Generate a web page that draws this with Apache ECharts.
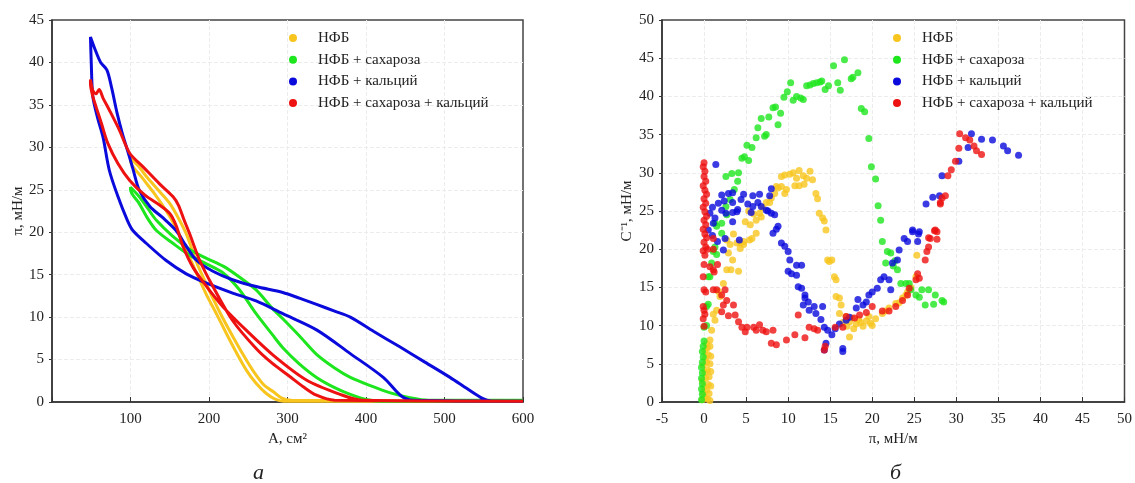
<!DOCTYPE html>
<html>
<head>
<meta charset="utf-8">
<script src="https://cdn.jsdelivr.net/npm/echarts@6/dist/echarts.min.js"></script>
<style>
  html, body { margin: 0; padding: 0; background: #fff; }
  #chart { width: 1135px; height: 483px; }
</style>
</head>
<body>
<div id="chart"></div>
<script>
// legend / series names
const names = ['НФБ', 'НФБ + сахароза', 'НФБ + кальций', 'НФБ + сахароза + кальций'];
const colors = ['#f7c51e', '#1ee61e', '#0a0adc', '#ee1111'];

// --- panel а: isotherms, [A, π], two branches per system ---
const nfbUp = [[100,28.7],[110,27.8],[120,26.6],[137,24.8],[150,23.4],[162,21.5],[172,19.6],[184,16.5],[195,14.2],[205,12.2],[218,9.8],[231,7.6],[244,5.5],[256,3.7],[270,2.0],[282,1.2],[292,0.5],[305,0.2],[600,0.1]];
const nfbDown = [[100,28.4],[115,26.4],[130,24.6],[145,22.6],[154,21.2],[165,19.2],[175,17.1],[186,14.8],[197,12.6],[210,10.3],[222,8.1],[235,5.8],[248,3.7],[260,2.2],[273,1.0],[285,0.3],[295,0.1],[600,0.1]];

const sucUp = [[100,25.3],[111,24.2],[122,22.8],[133,21.4],[154,19.5],[175,18.0],[195,17.0],[218,16.0],[239,14.7],[260,13.2],[281,11.0],[294,9.8],[315,7.8],[337,5.6],[360,4.0],[380,2.9],[409,1.8],[430,1.1],[456,0.5],[480,0.2],[600,0.2]];
const sucDown = [[100,25.0],[111,23.4],[122,21.6],[133,20.2],[154,18.7],[175,17.3],[196,16.3],[218,15.2],[239,13.2],[260,10.4],[281,7.9],[294,6.4],[315,4.5],[337,2.9],[360,1.7],[380,0.9],[400,0.3],[420,0.1],[600,0.1]];

const caUp = [[49,43],[55,41.5],[62,40],[70,39.1],[76,37],[83,34],[90,31.5],[95,30],[103,27.5],[111,25],[125,23],[140,21.8],[158,20.2],[170,18.5],[184,16.7],[205,15.4],[230,14.4],[260,13.6],[294,12.9],[316,12.2],[337,11.5],[360,10.7],[380,10],[410,8.3],[443,6.5],[475,4.7],[507,2.9],[530,1.5],[549,0.4],[560,0.1],[600,0.1]];
const caDown = [[50,40],[52,36],[58,33.5],[65,31.2],[73,27.3],[84,24.2],[96,21.4],[103,20.2],[120,18.7],[145,16.7],[171,15.1],[197,14.0],[231,12.8],[260,11.9],[294,10.4],[337,8.5],[380,5.7],[422,2.9],[445,0.7],[460,0.2],[600,0.1]];

const sucCaUp = [[49,38],[52,36.7],[56,36.3],[60,36.8],[65,35.8],[73,34.4],[86,32],[99,29.3],[116,27.7],[137,25.7],[154,24.2],[161,23.2],[168,21.5],[175,19.9],[188,16.7],[205,13.6],[230,9.6],[260,6.3],[280,4.6],[303,3.0],[320,1.8],[337,0.8],[360,0.2],[600,0.1]];
const sucCaDown = [[49,37.5],[52,36],[56,34.8],[63,32.8],[71,30.5],[84,28.1],[99,26.1],[118,24.4],[137,23.2],[150,22.2],[158,20.8],[167,18.3],[180,15.8],[197,13.6],[218,11.2],[248,8.4],[282,5.5],[324,2.6],[367,0.9],[395,0.2],[600,0.1]];

// --- panel б: compressibility modulus, [π, C^-1] ---
const nfbPts = [[-0.2,0.3],[0.1,0.6],[0.4,0.4],[0.7,0.2],[-0.1,1.2],[0.3,1.5],[0.6,1.1],[0.0,2.0],[0.5,2.3],[0.8,2.1],[-0.2,2.8],[0.2,3.1],[0.6,3.3],[0.1,3.9],[0.4,4.2],[0.8,4.0],[-0.1,4.8],[0.3,5.2],[0.7,5.0],[0.2,5.8],[0.5,6.2],[0.8,6.0],[0.1,6.7],[0.4,7.1],[0.7,7.3],[0.3,7.6],
  [0.7,8.1],[0.9,9.4],[1.3,10.7],[1.1,11.5],[1.5,12.0],[1.9,13.8],[1.7,14.5],[2.3,15.5],[2.7,17.3],[3.2,17.3],[4.1,17.1],[3.4,18.6],[2.9,19.5],[4.3,20.8],[4.7,20.6],[5.4,21.2],[2.7,21.2],[3.1,20.6],[3.9,20.8],[4.3,20.1],[3.5,22.0],[4.7,21.0],[5.7,21.4],[4.9,23.6],[5.5,23.2],[6.2,23.8],[6.6,24.7],[7.0,25.4],[7.4,26.1],[8.0,26.7],[8.4,27.3],[8.8,28.0],[9.2,28.2],[5.3,25.0],[5.9,24.6],[6.2,22.1],[6.8,24.2],[7.8,26.1],
  [9.2,29.5],[9.6,29.7],[10.2,29.8],[10.6,30.0],[11.0,29.3],[11.3,30.3],[11.8,29.6],[12.2,29.3],[12.6,30.2],[12.9,29.1],[11.9,28.5],[11.3,28.3],[10.8,28.3],[9.8,27.8],[8.6,28.2],[9.6,27.3],[13.3,27.3],[13.5,26.6],[13.7,24.7],[14.1,24.1],[14.3,23.7],[14.5,22.5],[14.7,18.6],[14.9,18.4],[15.2,18.6],[15.5,16.4],[15.7,16.0],[15.7,13.8],[16.1,13.6],[16.3,12.7],[16.1,11.6],
  [16.9,11.2],[17.3,10.5],[17.6,11.0],[18.1,10.2],[18.4,10.8],[18.9,9.9],[19.3,10.6],[19.8,10.3],[20.4,10.9],[17.0,9.9],[17.8,9.6],[18.6,10.4],[19.6,11.2],[17.3,8.5],[16.5,10.4],[20.0,10.0],
  [21.2,11.6],[22.0,12.3],[22.8,12.9],[23.6,13.6],[24.2,14.4],[24.6,15.0],[25.2,16.4],[25.3,19.2],[21.6,11.9],[23.2,13.0],[24.0,14.0]];

const sucPts = [[-0.3,0.3],[-0.2,1.0],[-0.3,1.7],[-0.2,2.4],[-0.3,3.1],[-0.2,3.8],[-0.3,4.5],[-0.2,5.2],[-0.1,5.9],[-0.2,6.6],[-0.1,7.3],[0.0,8.0],
  [0.0,9.8],[0.3,10.0],[0.3,12.5],[0.5,12.8],[0.5,16.4],[0.7,16.4],[0.9,18.2],[1.1,19.7],[1.5,19.3],[1.3,20.3],[2.1,22.1],[1.3,23.4],[1.5,23.0],[2.1,23.4],[2.7,24.5],[2.6,25.6],[3.1,26.5],[3.6,27.8],[2.6,29.5],[3.3,29.9],[4.1,30.0],[4.0,28.9],
  [4.5,31.9],[4.8,32.1],[5.3,31.6],[5.1,33.6],[5.7,33.3],[6.2,34.6],[6.4,35.9],[7.2,34.8],[7.4,35.0],[6.8,37.1],[7.7,37.3],[8.8,36.3],[8.2,38.5],[8.5,38.6],[9.1,37.8],[9.5,39.9],[9.9,40.6],[10.3,41.8],[10.6,39.5],[11.0,40.0],[11.5,39.8],[11.8,39.6],
  [12.2,41.4],[12.6,41.5],[13.0,41.7],[13.4,41.8],[13.8,41.9],[14.0,42.0],[14.4,40.9],[14.8,41.4],[15.4,44.0],[15.9,41.8],[16.2,40.8],[16.7,44.8],[17.5,42.3],[17.7,42.5],[18.3,43.1],[18.7,38.4],[19.1,38.0],[19.6,34.5],[19.9,30.8],[20.4,29.2],[20.7,25.7],[21.0,23.8],[21.2,21.0],
  [21.8,19.7],[22.2,19.5],[21.6,18.2],[22.5,17.8],[23.0,17.3],[22.7,18.5],[23.4,15.5],[24.0,15.5],[24.4,15.5],[24.6,14.7],[25.2,14.0],[25.6,13.7],[25.9,14.7],[26.3,12.7],[26.7,14.7],[27.5,14.0],[27.3,12.8],[28.3,13.3],[28.5,13.1]];

const caPts = [[1.4,31.1],[2.1,27.1],[2.9,27.3],[3.4,27.4],[4.7,27.2],[5.8,27.0],[6.6,27.2],[8.0,27.9],[7.8,27.0],[8.4,24.5],[1.0,25.5],[1.7,26.0],[2.4,26.3],[3.4,26.1],[4.4,26.5],[5.2,25.9],[5.8,25.6],[6.4,26.1],[6.8,25.6],[7.6,25.0],[4.0,25.2],[3.4,24.8],[5.6,24.8],
  [0.7,24.7],[1.3,24.1],[2.1,25.1],[2.6,24.7],[3.9,24.9],[3.4,23.6],[1.1,23.4],[0.5,22.5],[1.0,21.8],[2.3,19.9],[1.6,21.0],[2.5,21.4],[4.2,21.2],[7.4,25.1],[8.0,24.7],[8.2,22.1],[8.6,22.6],[8.8,23.0],[9.2,20.8],[9.6,20.4],[10.0,19.7],[10.2,18.6],[10.0,17.1],[10.4,16.8],
  [11.0,17.9],[11.6,17.9],[11.0,16.6],[11.2,15.1],[11.6,14.9],[12.0,14.0],[12.0,13.6],[12.4,13.1],[11.8,12.7],[12.5,12.0],[13.1,12.5],[14.1,12.5],[13.3,11.6],[13.9,10.8],[14.3,9.8],[14.7,9.4],[14.5,7.7],[14.3,6.8],[15.2,8.8],[16.5,7.0],[16.5,6.6],[15.6,9.6],[16.1,10.2],[16.9,10.7],[17.3,11.1],
  [18.1,12.3],[18.3,13.4],[18.9,12.7],[19.3,13.1],[19.6,14.0],[20.0,14.4],[20.6,14.9],[21.0,16.0],[21.4,16.4],[22.0,16.0],[22.2,14.7],[22.4,18.2],[23.0,18.6],[23.2,19.9],[23.8,21.4],[24.2,21.0],[24.8,22.5],[25.6,22.3],[25.4,21.0],[24.8,22.3],[25.5,22.0],
  [26.4,25.9],[27.2,26.8],[28.0,27.0],[28.3,29.6],[30.3,31.5],[31.4,33.3],[31.8,35.1],[33.0,34.4],[34.3,34.3],[35.6,33.5],[36.1,32.9],[37.4,32.3]];

const sucCaPts = [[0.0,31.3],[-0.1,30.8],[0.1,30.2],[0.0,29.5],[0.2,28.9],[-0.1,28.3],[0.1,27.7],[0.3,27.2],[0.0,26.6],[0.2,26.0],[-0.1,25.5],[0.1,24.9],[0.3,24.3],[0.0,23.8],[0.2,23.2],[-0.1,22.6],[0.1,22.0],[0.3,21.5],[0.0,20.9],[0.2,20.3],[-0.1,19.8],[0.1,19.2],[0.4,20.0],[0.0,18.0],[-0.1,16.4],[0.0,14.7],[0.2,14.4],[-0.1,12.5],[0.0,12.0],[-0.1,10.9],[0.0,9.9],[0.1,11.5],
  [1.1,21.4],[1.1,20.0],[1.6,18.0],[1.2,17.0],[1.1,14.7],[0.7,17.7],[1.1,17.3],[1.5,14.7],[2.1,14.0],[2.5,14.7],[2.7,13.3],[2.3,12.7],[2.1,11.8],[3.5,12.7],[2.9,11.3],[3.7,11.4],[4.1,10.5],[4.5,9.8],[5.1,9.8],[4.9,9.2],[5.9,9.8],[6.2,9.4],[6.6,10.1],[7.0,9.4],[7.4,9.2],[8.2,9.4],[8.0,7.7],[8.6,7.5],
  [9.8,8.1],[10.8,8.8],[11.2,11.4],[12.0,8.4],[12.5,9.8],[13.1,9.6],[13.5,9.4],[14.3,6.8],[14.4,7.3],[15.6,9.8],[16.5,9.8],[16.9,11.2],[17.9,11.0],[18.5,11.4],[19.3,11.7],[20.0,12.5],[21.2,11.9],[22.0,11.9],[22.8,12.5],[23.6,13.3],[24.2,14.0],[24.4,14.9],[25.2,16.0],[25.6,16.2],[25.4,16.8],
  [26.3,18.6],[26.5,19.7],[26.7,20.3],[26.9,21.4],[27.7,22.3],[27.5,22.5],[26.7,21.5],[27.4,22.4],[27.7,21.3],[28.1,25.9],[28.3,26.7],[28.7,27.0],[28.1,26.1],[29.0,29.6],[29.4,30.4],[29.9,31.5],[30.3,33.2],[30.4,35.1],[31.1,34.6],[31.6,34.3],[32.1,33.5],[32.4,32.9],[33.0,32.4]];

// one loop per system: first branch run backwards, then the second one
const loop = (a, b) => a.slice().reverse().concat(b);
const loops = [loop(nfbUp, nfbDown), loop(sucUp, sucDown), loop(caUp, caDown), loop(sucCaUp, sucCaDown)];
const points = [nfbPts, sucPts, caPts, sucCaPts];

const font = 'Liberation Serif';
const axisLine = { onZero: false, lineStyle: { color: '#333', width: 1.5 } };
const splitLine = { show: true, showMinLine: false, showMaxLine: false, lineStyle: { color: '#ececec', type: 'dashed', width: 1 } };
const label = { color: '#222', fontFamily: font, fontSize: 15 };
const nameStyle = { color: '#222', fontFamily: font, fontSize: 15 };

function legendAt(left) {
  return {
    orient: 'vertical',
    left: left,
    top: 25,
    icon: 'circle',
    itemWidth: 40,
    itemHeight: 8,
    itemGap: 5.7,
    selectedMode: false,
    textStyle: { fontFamily: font, fontSize: 15, color: '#222', lineHeight: 16 },
    data: names
  };
}

const chart = echarts.init(document.getElementById('chart'));
chart.setOption({
  backgroundColor: '#fff',
  animation: false,
  legend: [legendAt(284), legendAt(888)],
  grid: [
    { left: 52, top: 20, width: 471, height: 382, show: true, borderColor: '#444', borderWidth: 1.5 },
    { left: 662, top: 20, width: 465, height: 382, show: true, borderColor: '#444', borderWidth: 1.5 }
  ],
  xAxis: [{
    gridIndex: 0, type: 'value', min: 0, max: 600, interval: 100,
    name: 'A, см²', nameLocation: 'middle', nameGap: 27, nameTextStyle: nameStyle,
    axisLine: axisLine, axisTick: { inside: true, length: 5, lineStyle: { color: '#333' } },
    axisLabel: Object.assign({ margin: 10, formatter: v => v === 0 ? '' : v }, label),
    splitLine: splitLine
  }, {
    gridIndex: 1, type: 'value', min: -5, max: 50, interval: 5,
    name: 'π, мН/м', nameLocation: 'middle', nameGap: 27, nameTextStyle: nameStyle,
    axisLine: axisLine, axisTick: { inside: true, length: 5, lineStyle: { color: '#333' } },
    axisLabel: Object.assign({ margin: 10 }, label),
    splitLine: splitLine
  }],
  yAxis: [{
    gridIndex: 0, type: 'value', min: 0, max: 45, interval: 5,
    name: 'π, мН/м', nameLocation: 'middle', nameGap: 19, nameTextStyle: nameStyle,
    axisLine: axisLine, axisTick: { length: 3, lineStyle: { color: '#333' } },
    axisLabel: Object.assign({ margin: 8 }, label),
    splitLine: splitLine
  }, {
    gridIndex: 1, type: 'value', min: 0, max: 50, interval: 5,
    name: 'C⁻¹, мН/м', nameLocation: 'middle', nameGap: 27, nameTextStyle: nameStyle,
    axisLine: axisLine, axisTick: { length: 3, lineStyle: { color: '#333' } },
    axisLabel: Object.assign({ margin: 8 }, label),
    splitLine: splitLine
  }],
  series: names.map((n, i) => ({
    name: n, type: 'line', xAxisIndex: 0, yAxisIndex: 0,
    data: loops[i], showSymbol: false, smooth: 0.3,
    lineStyle: { color: colors[i], width: 3 }, itemStyle: { color: colors[i] }
  })).concat(names.map((n, i) => ({
    name: n, type: 'scatter', xAxisIndex: 1, yAxisIndex: 1,
    data: points[i], symbolSize: 7,
    itemStyle: { color: colors[i] }
  }))),
  graphic: [
    { type: 'text', left: 253, top: 462, style: { text: 'а', font: 'italic 22px "Liberation Serif"', fill: '#222' } },
    { type: 'text', left: 890, top: 462, style: { text: 'б', font: 'italic 22px "Liberation Serif"', fill: '#222' } }
  ]
});
</script>
</body>
</html>
